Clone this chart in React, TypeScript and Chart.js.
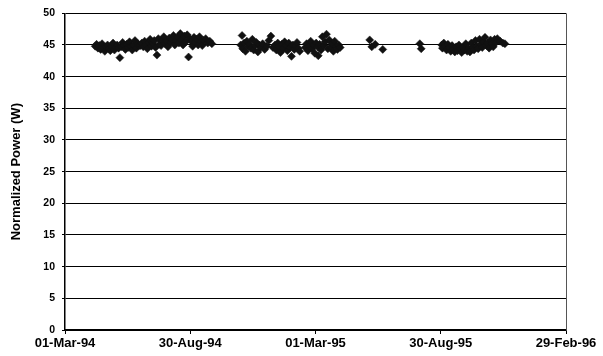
import React, { useEffect, useRef } from "react";
import { Chart, registerables } from "chart.js";

Chart.register(...registerables);

// x values are days since 01-Mar-94
const tickDays = [0, 182.5, 365, 547.5, 730];
const tickLabels = ["01-Mar-94", "30-Aug-94", "01-Mar-95", "30-Aug-95", "29-Feb-96"];
const yTicks = [0, 5, 10, 15, 20, 25, 30, 35, 40, 45, 50];

const days1 = [44,46,48,50,52,54,56,58,60,62,64,66,68,70,72,74,76,78,80,82,84,86,88,90,92,94,96,98,100,102,104,106,108,110,112,114,116,118,120,122,124,126,128,130,132,134,136,138,140,142,144,146,148,150,152,154,156,158,160,162,164,166,168,170,172,174,176,178,180,182,184,186,188,190,192,194,196,198,200,202,205,208,211,214];
const power1 = [
  44.8,45.1,44.5,44.9,44.3,45.2,44.6,44.0,44.7,45.0,44.4,44.1,44.8,45.3,44.2,44.6,45.0,44.5,43.0,44.7,
  45.4,44.9,44.3,45.1,44.6,45.5,44.8,44.2,45.0,45.7,44.5,45.2,44.9,44.9,45.3,44.7,45.6,45.0,44.4,45.4,
  45.9,44.8,45.3,45.7,44.6,43.4,46.0,45.1,44.9,45.8,46.3,45.2,45.6,44.7,46.1,45.4,45.9,46.5,45.0,45.7,
  46.2,45.3,46.8,45.8,45.0,46.4,45.5,46.6,43.1,46.0,45.6,44.8,46.2,45.4,45.9,45.0,46.3,45.6,44.9,45.7,
  46.0,45.3,45.6,45.2
];

const days2 = [256,258,259,261,263,265,267,269,271,273,275,277,279,281,283,285,288,291,294,297,300,303,306,308,310,312,314,316,318,320,322,324,326,328,330,332,334,336,338,340,342,350,352,354,356,358,360,362,364,366,368,369,371,373,375,377,379,381,383,385,387,389,391,393,395,397,399,401];
const power2 = [
  45.0,46.5,44.4,45.3,44.0,45.6,44.8,45.1,44.5,45.9,
  44.2,44.9,45.4,43.9,45.0,44.6,45.2,44.3,44.8,45.7,
  46.4,44.6,45.0,44.2,45.3,44.7,43.8,45.1,44.4,45.5,
  44.9,44.1,45.3,44.6,43.2,45.0,44.3,44.8,45.4,44.5,
  44.0,44.6,45.2,44.1,44.8,45.6,44.4,45.0,43.7,45.3,
  44.7,43.3,45.1,44.2,46.3,44.9,45.5,46.7,44.4,45.8,
  44.6,45.2,44.0,45.6,44.8,44.3,45.0,44.6
];

const days3 = [444,447,452,463,517,519];
const power3 = [45.8,44.7,45.1,44.3,45.2,44.4];

const days4 = [549,550,552,554,556,558,560,562,564,566,568,570,572,574,576,578,580,582,584,586,588,590,592,594,596,598,600,602,604,606,608,610,612,614,616,618,620,622,624,626,628,630,634,638,641];
const power4 = [
  45.0,44.5,45.3,44.8,44.2,45.1,44.6,44.0,44.9,44.3,
  43.9,44.7,44.1,45.0,44.4,43.8,44.6,44.2,45.2,44.0,
  44.5,43.9,45.3,44.6,44.2,45.7,44.8,44.4,45.9,45.1,
  44.6,45.5,46.2,44.9,45.3,44.5,45.8,45.2,44.7,45.9,
  45.4,46.0,45.6,45.3,45.2
];

const allDays = [...days1, ...days2, ...days3, ...days4];
const allPower = [...power1, ...power2, ...power3, ...power4];

const FONT = "'Liberation Sans', Arial, sans-serif";

const rightBorder = {
  id: "rightBorder",
  afterDraw(chart: any) {
    const { ctx, chartArea } = chart;
    ctx.save();
    ctx.strokeStyle = "#555";
    ctx.lineWidth = 1;
    ctx.beginPath();
    ctx.moveTo(chartArea.right + 0.5, chartArea.top);
    ctx.lineTo(chartArea.right + 0.5, chartArea.bottom);
    ctx.stroke();
    ctx.restore();
  },
};

export default function App() {
  const ref = useRef<HTMLCanvasElement>(null);
  useEffect(() => {
    if (!ref.current) return;
    const data = allDays.map((d, i) => ({ x: d, y: allPower[i] }));
    const chart = new Chart(ref.current, {
      type: "scatter",
      data: {
        datasets: [
          {
            data,
            pointStyle: "rectRot",
            pointRadius: 4,
            backgroundColor: "#111",
            borderColor: "#111",
            borderWidth: 0.5,
          },
        ],
      },
      options: {
        animation: false,
        responsive: false,
        maintainAspectRatio: false,
        layout: { padding: { left: 0, top: 10, right: 37, bottom: 0 } },
        plugins: { legend: { display: false }, tooltip: { enabled: false } },
        scales: {
          x: {
            type: "linear",
            min: 0,
            max: 730,
            afterBuildTicks: (scale: any) => {
              scale.ticks = tickDays.map((v) => ({ value: v }));
            },
            afterFit: (scale: any) => {
              scale.height = 26;
            },
            ticks: {
              autoSkip: false,
              maxRotation: 0,
              padding: 2,
              color: "#000",
              font: { family: FONT, size: 13, weight: "bold" },
              callback: (v: any) => {
                const i = tickDays.indexOf(Number(v));
                return i >= 0 ? tickLabels[i] : "";
              },
            },
            grid: { display: true, drawOnChartArea: false, drawTicks: true, tickLength: 4, color: "#000" },
            border: { display: true, color: "#000", width: 1.5 },
          },
          y: {
            min: 0,
            max: 50,
            afterBuildTicks: (scale: any) => {
              scale.ticks = yTicks.map((v) => ({ value: v }));
            },
            afterFit: (scale: any) => {
              scale.width = 65;
            },
            ticks: {
              padding: 7,
              color: "#000",
              font: { family: FONT, size: 10.5, weight: "bold" },
            },
            grid: { color: "#000", lineWidth: 1, tickLength: 3 },
            border: { display: true, color: "#000", width: 1.5 },
            title: {
              display: true,
              text: "Normalized Power (W)",
              color: "#000",
              font: { family: FONT, size: 13, weight: "bold" },
              padding: { top: 9, bottom: 0 },
            },
          },
        },
      },
      plugins: [rightBorder],
    });
    return () => chart.destroy();
  }, []);
  return (
    <div style={{ position: "fixed", left: 0, top: 0, width: 603, height: 356, background: "#fff" }}>
      <canvas ref={ref} width={603} height={356} style={{ width: 603, height: 356 }} />
    </div>
  );
}
